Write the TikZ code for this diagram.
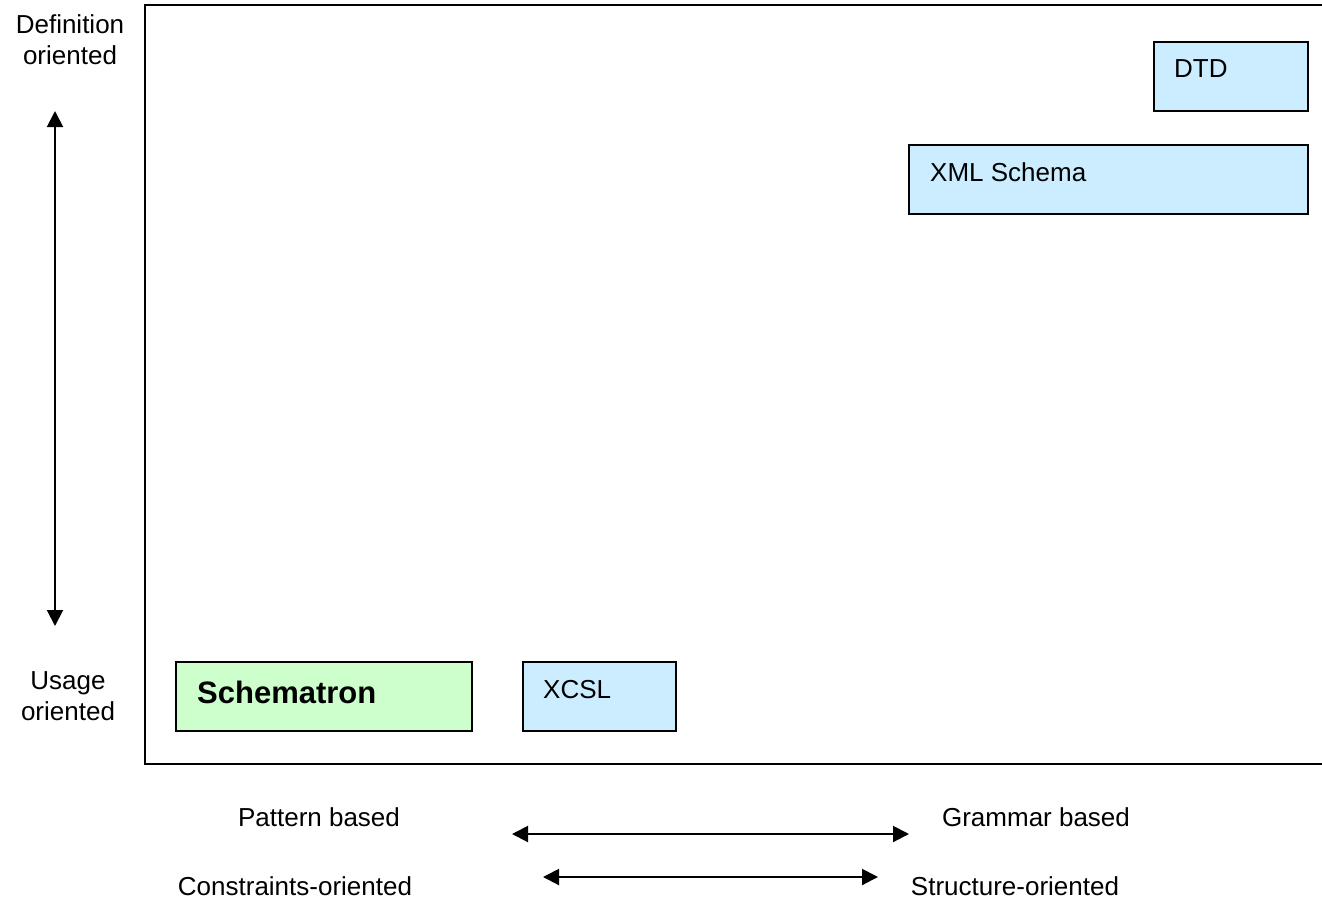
\documentclass[tikz,border=0pt]{standalone}
\usepackage{fontspec}
\setmainfont{Liberation Sans}
\usetikzlibrary{arrows.meta,positioning}
\definecolor{boxblue}{HTML}{CCECFF}
\definecolor{boxgreen}{HTML}{CCFFCC}

\begin{document}
\begin{tikzpicture}[x=1pt, y=-1pt, >={Triangle[length=16pt,width=16pt]}, font=\fontsize{26}{31}\selectfont]
	\tikzstyle{box}=[draw=black, line width=1.5pt, fill=boxblue, rectangle, anchor=north west, inner sep=0pt]
	\tikzstyle{axis}=[<->, line width=2pt]
	\tikzstyle{lbl}=[anchor=base, inner sep=0pt, align=center]
	\useasboundingbox (0,0) rectangle (1322,911);
	% frame
	\draw[line width=2pt] (1322,5) -- (145,5) -- (145,764) -- (1322,764);

	% boxes
	\node[box, minimum width=154pt, minimum height=69pt] (dtd) at (1153,41) {};
	\node[box, minimum width=399pt, minimum height=69pt] (xsd) at (908,144) {};
	\node[box, fill=boxgreen, minimum width=296pt, minimum height=69pt] (stron) at (175,661) {};
	\node[box, minimum width=153pt, minimum height=69pt] (xcsl) at (522,661) {};
	\node[lbl, anchor=base west] (dtdtxt) at (1174,77) {DTD};
	\node[lbl, anchor=base west] (xsdtxt) at (930,181) {XML Schema};
	\node[lbl, anchor=base west, font=\fontsize{31}{36}\selectfont\bfseries] (strontxt) at (197,703) {Schematron};
	\node[lbl, anchor=base west] (xcsltxt) at (543,698) {XCSL};

	% vertical axis
	\node[lbl] (defn) at (70,64) {Definition\\oriented};
	\node[lbl] (usage) at (68,720) {Usage\\oriented};
	\coordinate (vtop) at (55,111);
	\coordinate (vbot) at (55,626);
	\draw[axis] (vtop) -- (vbot);

	% horizontal axes
	\node[lbl] (pattern) at (319,826) {Pattern based};
	\node[lbl] (grammar) at (1036,826) {Grammar based};
	\coordinate (pl) at (512,834);
	\coordinate (pr) at (909,834);
	\draw[axis] (pl) -- (pr);
	\node[lbl] (constr) at (295,895) {Constraints-oriented};
	\node[lbl] (struct) at (1015,895) {Structure-oriented};
	\coordinate (cl) at (543,877);
	\coordinate (cr) at (878,877);
	\draw[axis] (cl) -- (cr);
\end{tikzpicture}
\end{document}
